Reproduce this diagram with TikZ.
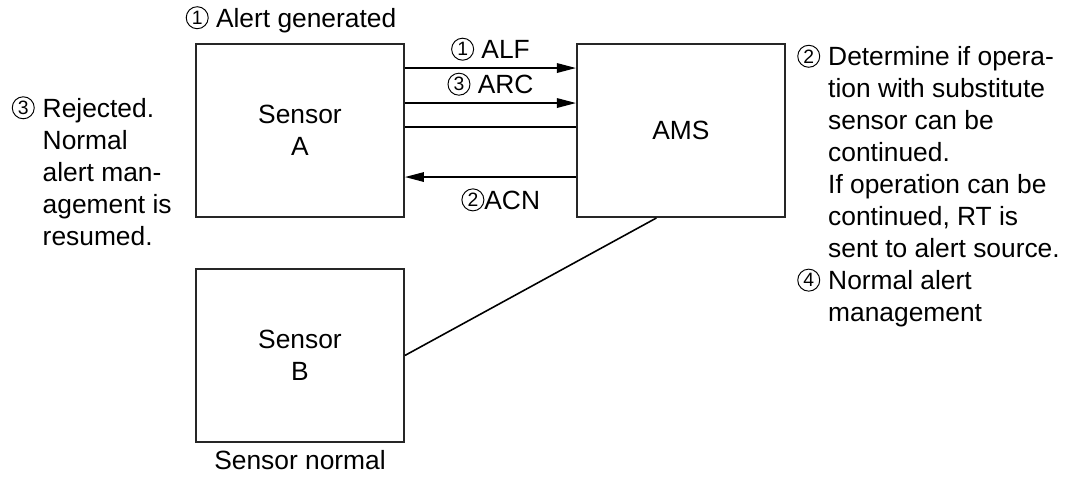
\documentclass[tikz,border=0pt]{standalone}
\usepackage{fontspec}
\setmainfont{Liberation Sans}
\usetikzlibrary{arrows.meta,positioning}
% circled step number, drawn thin as in the figure
\newcommand{\cnum}[1]{\tikz[baseline=0pt]{\draw[line width=0.55pt] (0,0.19cm) circle (0.22cm);
  \node[anchor=center,inner sep=0pt,font=\fontsize{11}{11}\selectfont] at (0,0.19cm) {#1};}}

\begin{document}
\begin{tikzpicture}[
  font=\fontsize{15}{18.2}\selectfont,
  box/.style={draw=black!85,line width=1.1pt,align=center,minimum width=4.16cm,minimum height=3.46cm},
  txt/.style={inner sep=0pt},
  arr/.style={-{Triangle[length=0.38cm,width=0.19cm]},line width=0.9pt},
  lnk/.style={line width=0.9pt}
]
\useasboundingbox (0,0) rectangle (21.36,-9.56);
\node[box] (sensA) at (6.0,-2.61) {Sensor\\A};
\node[box,right=3.42cm of sensA] (ams) {AMS};
\node[box,below=1.0cm of sensA] (sensB) {Sensor\\B};
% notes round the boxes
\node[txt,above=0.2cm of sensA,xshift=-0.18cm] (gen) {\cnum{1} Alert generated};
\node[txt,below=0.14cm of sensB] (norm) {Sensor normal};
\node[txt,below left=1.03cm and 0.46cm of sensA.north west] (rej) {%
  \begin{tabular}{@{}l@{\hspace{0.16cm}}l@{}}
  \cnum{3} & Rejected.\\
   & Normal\\
   & alert man-\\
   & agement is\\
   & resumed.
  \end{tabular}};
\node[txt,below right=0cm and 0.22cm of ams.north east] (det) {%
  \begin{tabular}{@{}l@{\hspace{0.16cm}}l@{}}
  \cnum{2} & Determine if opera-\\
   & tion with substitute\\
   & sensor can be\\
   & continued.\\
   & If operation can be\\
   & continued, RT is\\
   & sent to alert source.\\
  \cnum{4} & Normal alert\\
   & management
  \end{tabular}};
% messages
\draw[arr] ([yshift=-0.5cm]sensA.north east) -- node[txt,above=0.14cm]{\cnum{1} ALF} ([yshift=-0.5cm]ams.north west);
\draw[arr] ([yshift=-1.2cm]sensA.north east) -- node[txt,above=0.14cm]{\cnum{3} ARC} ([yshift=-1.2cm]ams.north west);
\draw[lnk] ([yshift=-1.68cm]sensA.north east) -- ([yshift=-1.68cm]ams.north west);
\draw[arr] ([yshift=-2.68cm]ams.north west) -- node[txt,below=0.22cm,pos=0.44]{\cnum{2}ACN} ([yshift=-2.68cm]sensA.north east);
\draw[lnk] (sensB.east) -- ([xshift=-0.49cm]ams.south);
\end{tikzpicture}
\end{document}
